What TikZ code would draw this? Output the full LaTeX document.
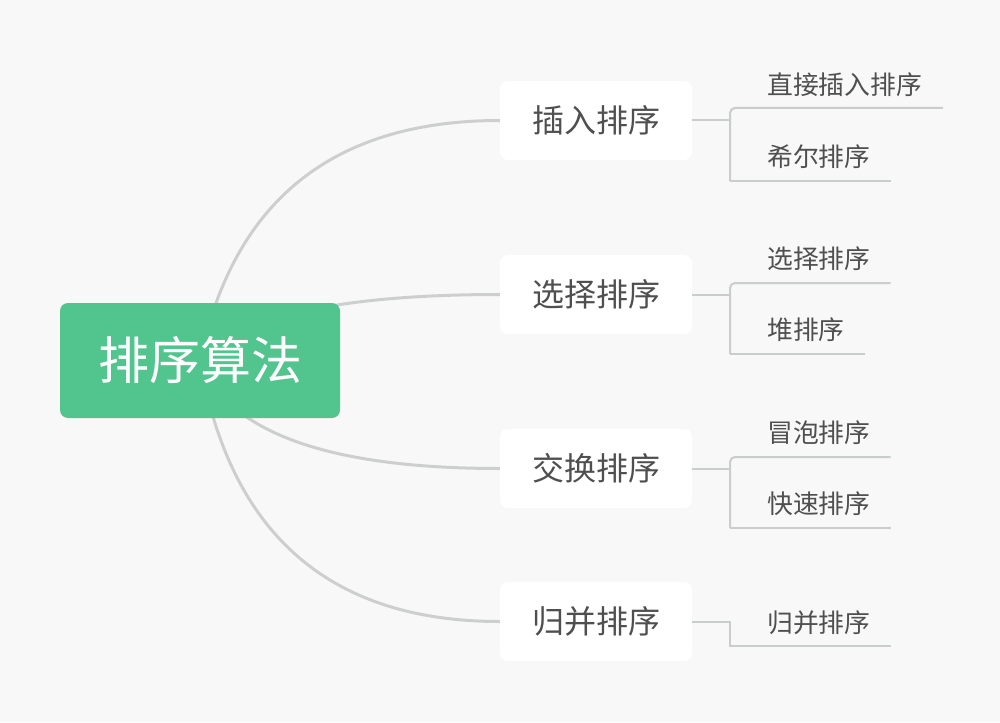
\documentclass[tikz,border=0pt]{standalone}
\usepackage{fontspec}
\newfontfamily\cjk{Noto Sans CJK SC}
\usetikzlibrary{calc}
\definecolor{bgc}{HTML}{F8F8F8}
\definecolor{rootgreen}{HTML}{52C48D}
\definecolor{curvec}{HTML}{CDCFCE}
\definecolor{subc}{HTML}{C9CDCC}
\definecolor{txt}{HTML}{4F4F4F}
\pgfdeclarelayer{bglayer}
\pgfdeclarelayer{curvelayer}
\pgfsetlayers{bglayer,curvelayer,main}
\tikzset{
  rootbox/.style={rectangle, fill=rootgreen, rounded corners=8pt, minimum width=280pt, minimum height=115pt, inner sep=0pt, text=white, font=\cjk\fontsize{51}{60}\selectfont},
  branchbox/.style={rectangle, fill=white, rounded corners=8pt, minimum width=192pt, minimum height=79pt, inner sep=0pt, text=txt, font=\cjk\fontsize{32}{38}\selectfont},
  leaf/.style={anchor=west, inner sep=0pt, text=txt, font=\cjk\fontsize{25.8}{30}\selectfont},
  maincurve/.style={draw=curvec, line width=3pt},
  subline/.style={draw=subc, line width=2pt},
}
\begin{document}
\begin{tikzpicture}[x=1pt,y=-1pt]
\begin{pgfonlayer}{bglayer}
\path[use as bounding box, fill=bgc] (0,0) rectangle (1000,722);
\end{pgfonlayer}
% nodes
\node[rootbox] (root) at (200,360.5) {排序算法};
\node[branchbox] (b1) at (596,120.5) {插入排序};
\node[branchbox] (b2) at (596,294.5) {选择排序};
\node[branchbox] (b3) at (596,468.5) {交换排序};
\node[branchbox] (b4) at (596,621.5) {归并排序};
\node[leaf] (l11) at (767,85) {直接插入排序};
\node[leaf] (l12) at (767,157) {希尔排序};
\node[leaf] (l21) at (767,259) {选择排序};
\node[leaf] (l22) at (767,330) {堆排序};
\node[leaf] (l31) at (767,433) {冒泡排序};
\node[leaf] (l32) at (767,504) {快速排序};
\node[leaf] (l41) at (767,623) {归并排序};
% main curves
\begin{pgfonlayer}{curvelayer}
\draw[maincurve] (root.center) .. controls (233.3,200.5) and (333.3,120.5) .. (b1.west);
\draw[maincurve] (root.center) .. controls (240,316.5) and (340,294.5) .. (b2.west);
\draw[maincurve] (root.center) .. controls (228,432.5) and (328,468.5) .. (b3.west);
\draw[maincurve] (root.center) .. controls (230,534.5) and (330,621.5) .. (b4.west);
\end{pgfonlayer}
% sub connectors
\coordinate (t1) at (730,108); \coordinate (d1) at (730,181);
\coordinate (t2) at (730,283); \coordinate (d2) at (730,354);
\coordinate (t3) at (730,457); \coordinate (d3) at (730,528);
\coordinate (d4) at (730,646);
\draw[subline] (b1.east) -- (b1.east -| t1);
\draw[subline, rounded corners=5pt] (d1) -- (t1) -- ([xshift=21pt]l11.east |- t1);
\draw[subline] (d1) -- ([xshift=20pt]l12.east |- d1);
\draw[subline] (b2.east) -- (b2.east -| t2);
\draw[subline, rounded corners=5pt] (d2) -- (t2) -- ([xshift=20pt]l21.east |- t2);
\draw[subline] (d2) -- ([xshift=20pt]l22.east |- d2);
\draw[subline] (b3.east) -- (b3.east -| t3);
\draw[subline, rounded corners=5pt] (d3) -- (t3) -- ([xshift=20pt]l31.east |- t3);
\draw[subline] (d3) -- ([xshift=20pt]l32.east |- d3);
\draw[subline] (b4.east) -- (b4.east -| d4) -- (d4) -- ([xshift=20pt]l41.east |- d4);
\end{tikzpicture}
\end{document}
